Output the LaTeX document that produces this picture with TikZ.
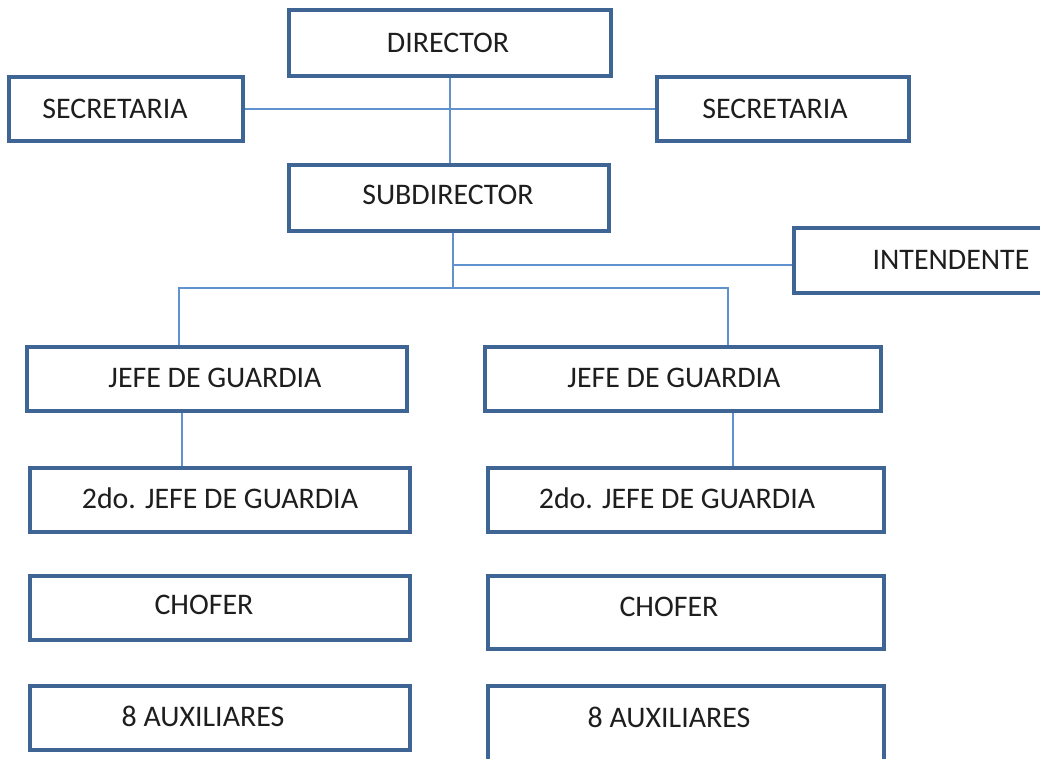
\documentclass[tikz,border=0pt]{standalone}
\usepackage{fontspec}
\setmainfont{Carlito}
\definecolor{boxblue}{RGB}{62,101,148}
\definecolor{lineblue}{RGB}{96,146,208}
\definecolor{txt}{RGB}{30,30,30}
\begin{document}
\begin{tikzpicture}[x=1bp,y=-1bp,
  box/.style={draw=boxblue, line width=3.6bp, rectangle, inner sep=0pt, fill=white},
  lbl/.style={inner sep=0pt, text=txt, font=\fontsize{30}{35}\selectfont},
  conn/.style={draw=lineblue, line width=1.6bp}]
\useasboundingbox (0,0) rectangle (1040,759);
\clip (0,0) rectangle (1040,759);
% boxes
\node[box, minimum width=322bp, minimum height=66bp] (dir) at (450,43) {};
\node[box, minimum width=234bp, minimum height=64bp] (secL) at (126,109) {};
\node[box, minimum width=252bp, minimum height=64bp] (secR) at (783,109) {};
\node[box, minimum width=320bp, minimum height=66bp] (sub) at (449,198) {};
\node[box, minimum width=266bp, minimum height=65bp] (int) at (927,260.5) {};
\node[box, minimum width=380bp, minimum height=64bp] (jefeL) at (217,379) {};
\node[box, minimum width=396bp, minimum height=64bp] (jefeR) at (683,379) {};
\node[box, minimum width=380bp, minimum height=64bp] (dosL) at (220,500) {};
\node[box, minimum width=396bp, minimum height=64bp] (dosR) at (686,500) {};
\node[box, minimum width=380bp, minimum height=64bp] (choL) at (220,608) {};
\node[box, minimum width=396bp, minimum height=73bp] (choR) at (686,612.5) {};
\node[box, minimum width=380bp, minimum height=64bp] (auxL) at (220,718) {};
\node[box, minimum width=396bp, minimum height=104bp] (auxR) at (686,738) {};
% labels
\node[lbl] (tdir) at (448,43) {DIRECTOR};
\node[lbl] (tsecL) at (115,109) {SECRETARIA};
\node[lbl] (tsecR) at (775,109) {SECRETARIA};
\node[lbl] (tsub) at (448,195) {SUBDIRECTOR};
\node[lbl] (tint) at (951,260) {INTENDENTE};
\node[lbl] (tjefeL) at (215,378) {JEFE DE GUARDIA};
\node[lbl] (tjefeR) at (674,378) {JEFE DE GUARDIA};
\node[lbl] (tdosL) at (220,498) {2do. JEFE DE GUARDIA};
\node[lbl] (tdosR) at (677,498) {2do. JEFE DE GUARDIA};
\node[lbl] (tchoL) at (204,605) {CHOFER};
\node[lbl] (tchoR) at (669,607) {CHOFER};
\node[lbl] (tauxL) at (203,716) {8 AUXILIARES};
\node[lbl] (tauxR) at (669,717) {8 AUXILIARES};
% connectors
\coordinate (j1) at (453,265);
\coordinate (bus) at (453,288);
\coordinate (bl) at (179,288);
\coordinate (br) at (728,288);
\draw[conn] (dir.south) -- (dir.south |- sub.north);
\draw[conn] (secL.east) -- (secR.west);
\draw[conn] ([xshift=4bp]sub.south) -- (bus);
\draw[conn] (j1) -- (j1 -| int.west);
\draw[conn] (bl |- jefeL.north) -- (bl) -- (br) -- (br |- jefeR.north);
\draw[conn] ([xshift=-35bp]jefeL.south) -- ([xshift=-35bp]jefeL.south |- dosL.north);
\draw[conn] ([xshift=50bp]jefeR.south) -- ([xshift=50bp]jefeR.south |- dosR.north);
\end{tikzpicture}
\end{document}
